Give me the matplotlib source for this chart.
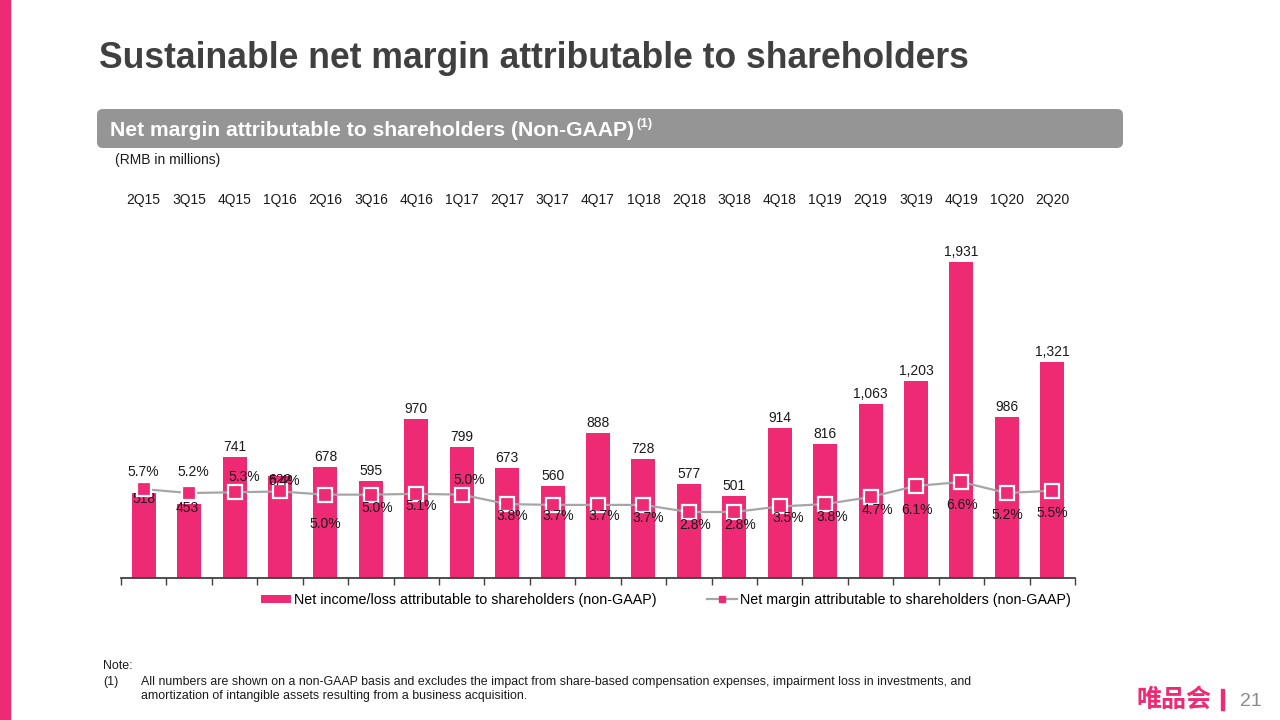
import matplotlib
matplotlib.use("Agg")
import matplotlib.pyplot as plt
from matplotlib.patches import FancyBboxPatch, Rectangle, Patch
from matplotlib.lines import Line2D
import matplotlib.transforms as mtransforms

plt.rcParams['font.family'] = ['Liberation Sans', 'DejaVu Sans']

quarters = ["2Q15", "3Q15", "4Q15", "1Q16", "2Q16", "3Q16", "4Q16", "1Q17", "2Q17", "3Q17", "4Q17",
            "1Q18", "2Q18", "3Q18", "4Q18", "1Q19", "2Q19", "3Q19", "4Q19", "1Q20", "2Q20"]
net_income = [518, 453, 741, 622, 678, 595, 970, 799, 673, 560, 888,
              728, 577, 501, 914, 816, 1063, 1203, 1931, 986, 1321]
net_margin = [5.7, 5.2, 5.3, 5.4, 5.0, 5.0, 5.1, 5.0, 3.8, 3.7, 3.7,
              3.7, 2.8, 2.8, 3.5, 3.8, 4.7, 6.1, 6.6, 5.2, 5.5]

PINK = "#EE2A74"
GREY_LINE = "#A6A6A6"
TXT = "#1A1A1A"

W, H = 1280, 720
fig = plt.figure(figsize=(12.8, 7.2), dpi=100)

def fx(px):
    return px / W

def fy(py):
    return 1 - py / H

# overlay axes in pixel coordinates for decorations
deco = fig.add_axes([0, 0, 1, 1], zorder=-1)
deco.set_xlim(0, W)
deco.set_ylim(H, 0)
deco.axis('off')

deco.add_patch(Rectangle((0, 0), 10, H, color=PINK))
deco.text(99, 58, "Sustainable net margin attributable to shareholders", fontsize=25.6,
          fontweight='bold', color="#404040", va='center', ha='left')

deco.add_patch(FancyBboxPatch((97, 109), 1026, 39, boxstyle="round,pad=0,rounding_size=6",
                              facecolor="#959595", edgecolor="none"))
hdr = deco.text(110, 131, "Net margin attributable to shareholders (Non-GAAP)", fontsize=15.2,
                fontweight='bold', color="white", va='center', ha='left')
fig.canvas.draw()
bb = hdr.get_window_extent()
deco.text(bb.x1 + 2, 124, "(1)", fontsize=9.5, fontweight='bold', color="white",
          va='center', ha='left')

deco.text(115, 160, "(RMB in millions)", fontsize=10, color=TXT, va='center', ha='left')

# notes
deco.text(103, 666, "Note:", fontsize=8.9, color=TXT, va='center', ha='left')
deco.text(103, 682, "(1)", fontsize=8.9, color=TXT, va='center', ha='left')
deco.text(141, 682, "All numbers are shown on a non-GAAP basis and excludes the impact from share-based "
          "compensation expenses, impairment loss in investments, and", fontsize=8.9, color=TXT,
          va='center', ha='left')
deco.text(141, 696, "amortization of intangible assets resulting from a business acquisition.",
          fontsize=8.9, color=TXT, va='center', ha='left')

# logo and page number
deco.text(1136, 700, "唯品会", fontsize=18, fontweight='bold', color=PINK, va='center', ha='left',
          family=['Noto Sans CJK SC', 'DejaVu Sans'])
deco.add_patch(Rectangle((1221, 689), 2.5, 21, color=PINK))
deco.text(1240, 701, "21", fontsize=14, color="#8C8C8C", va='center', ha='left')

# chart axes
ax = fig.add_axes([fx(121), fy(578), fx(1075) - fx(121), fy(230) - fy(578)])
ax.set_xlim(-0.5, len(quarters) - 0.5)
ymax = (578 - 230) / ((578 - 262) / 1931)
ax.set_ylim(0, ymax)
x = list(range(len(quarters)))
ax.bar(x, net_income, width=0.53, color=PINK, zorder=2)

for s in ['top', 'right', 'left']:
    ax.spines[s].set_visible(False)
ax.spines['bottom'].set_color("#404040")
ax.spines['bottom'].set_linewidth(1.3)
ax.set_yticks([])
ax.set_xticks([i - 0.5 for i in range(len(quarters) + 1)])
ax.set_xticklabels([])
ax.tick_params(axis='x', direction='out', length=5, width=1.0, color="#404040")

# category labels at top
trans = mtransforms.blended_transform_factory(ax.transData, fig.transFigure)
for i, q in enumerate(quarters):
    ax.text(i, fy(200), q, transform=trans, fontsize=10, color=TXT, ha='center', va='center')

# bar labels
bar_offsets = {0: (0, -6, 'center'), 1: (-2, -4, 'center'), 3: (0, -4, 'center')}
for i, v in enumerate(net_income):
    lab = f"{v:,}"
    dx, dy, va = bar_offsets.get(i, (0, 3, 'bottom'))
    ax.annotate(lab, (i, v), xytext=(dx, dy), textcoords='offset pixels', ha='center', va=va,
                fontsize=10, color=TXT, zorder=5)

# secondary axis for margin
ax2 = ax.twinx()
px_per_pct = 30 / 3.8
low = 2.8 - (578 - 512) / px_per_pct
high = low + (578 - 230) / px_per_pct
ax2.set_ylim(low, high)
ax2.set_xlim(-0.5, len(quarters) - 0.5)
ax2.axis('off')
ax2.plot(x, net_margin, color=GREY_LINE, lw=1.6, marker='s', markersize=9.5,
         markerfacecolor=PINK, markeredgecolor='white', markeredgewidth=1.6, zorder=3)

pct_offsets = [(0, 17), (4, 21), (10, 15), (4, 10), (0, -29), (6, -13), (5, -12), (8, 15),
               (5, -12), (6, -11), (6, -11), (5, -13), (6, -13), (6, -13), (9, -12), (7, -13),
               (7, -13), (1, -24), (1, -23), (0, -22), (0, -22)]
for i, v in enumerate(net_margin):
    dx, dy = pct_offsets[i]
    ax2.annotate(f"{v:.1f}%", (i, v), xytext=(dx, dy), textcoords='offset pixels', ha='center',
                 va='center', fontsize=10, color=TXT, zorder=6)

# legend
handles = [Patch(facecolor=PINK, edgecolor='none'),
           Line2D([0], [0], color=GREY_LINE, lw=1.6, marker='s', markersize=4,
                  markerfacecolor=PINK, markeredgecolor=PINK)]
labels = ["Net income/loss attributable to shareholders (non-GAAP)",
          "Net margin attributable to shareholders (non-GAAP)"]
fig.legend(handles, labels, loc='center', bbox_to_anchor=(fx(666), fy(600)), ncol=2,
           frameon=False, fontsize=10.25, handlelength=2.1, handleheight=0.5, handletextpad=0.25,
           columnspacing=3.5, borderpad=0)

fig.savefig("out.png", dpi=100)
